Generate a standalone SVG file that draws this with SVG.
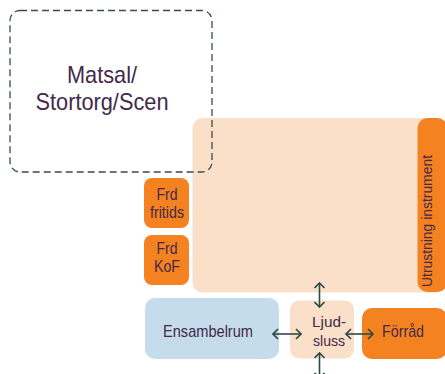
<svg xmlns="http://www.w3.org/2000/svg" width="445" height="374" viewBox="0 0 445 374">
<defs>
<style>
.t{font-family:"Liberation Sans",Arial,sans-serif;fill:#43294a;text-anchor:middle}
.peach{fill:#fae0c8}
.orange{fill:#f58220}
.blue{fill:#c5dcec}
.conn{stroke:#2e4a45;stroke-width:1.6;fill:none;marker-start:url(#ah);marker-end:url(#ah)}
</style>
<marker id="ah" viewBox="0 0 10 12" refX="9" refY="6" markerWidth="10" markerHeight="12" markerUnits="userSpaceOnUse" orient="auto-start-reverse">
<path d="M4,1 L9,6 L4,11" fill="none" stroke="#2e4a45" stroke-width="1.7"/>
</marker>
</defs>
<rect width="445" height="374" fill="#ffffff"/>
<g id="main-area">
<rect class="peach" x="192.5" y="118" width="252.5" height="174.5" rx="10"/>
</g>
<g id="matsal">
<rect x="10" y="10.5" width="202" height="161.5" rx="10" fill="none" stroke="#3b4b4b" stroke-width="1.3" stroke-dasharray="7,4"/>
<text class="t" x="102" y="83" font-size="24" textLength="70" lengthAdjust="spacingAndGlyphs">Matsal/</text>
<text class="t" x="102" y="110" font-size="24" textLength="133" lengthAdjust="spacingAndGlyphs">Stortorg/Scen</text>
</g>
<g id="utrustning">
<rect class="orange" x="417.5" y="118" width="30" height="174" rx="10"/>
<text class="t" transform="translate(431.5,221) rotate(-90)" font-size="15" textLength="132" lengthAdjust="spacingAndGlyphs">Utrustning instrument</text>
</g>
<g id="frd-fritids">
<rect class="orange" x="144" y="178" width="45" height="50" rx="8"/>
<text class="t" x="167" y="200" font-size="16" textLength="21" lengthAdjust="spacingAndGlyphs">Frd</text>
<text class="t" x="167" y="218" font-size="16" textLength="34" lengthAdjust="spacingAndGlyphs">fritids</text>
</g>
<g id="frd-kof">
<rect class="orange" x="144" y="235" width="45" height="50" rx="8"/>
<text class="t" x="167" y="254" font-size="16" textLength="21" lengthAdjust="spacingAndGlyphs">Frd</text>
<text class="t" x="167" y="272" font-size="16" textLength="26" lengthAdjust="spacingAndGlyphs">KoF</text>
</g>
<g id="ensambelrum">
<rect class="blue" x="145" y="298" width="134" height="61" rx="10"/>
<text class="t" x="208" y="337" font-size="17" textLength="90" lengthAdjust="spacingAndGlyphs">Ensambelrum</text>
</g>
<g id="ljudsluss">
<rect class="peach" x="290" y="300.5" width="64" height="58" rx="9"/>
<text class="t" x="329" y="327" font-size="15.5" textLength="34" lengthAdjust="spacingAndGlyphs">Ljud-</text>
<text class="t" x="329" y="345.5" font-size="15.5" textLength="32" lengthAdjust="spacingAndGlyphs">sluss</text>
</g>
<g id="forrad">
<rect class="orange" x="362" y="308" width="85" height="51" rx="10"/>
<text class="t" x="403" y="337" font-size="17" textLength="42" lengthAdjust="spacingAndGlyphs">Förråd</text>
</g>
<g id="connectors">
<line class="conn" x1="319.5" y1="283" x2="319.5" y2="307"/>
<line class="conn" x1="319.5" y1="353" x2="319.5" y2="378"/>
<line class="conn" x1="273" y1="334" x2="301" y2="334"/>
<line class="conn" x1="346" y1="334" x2="373" y2="334"/>
</g>
</svg>
